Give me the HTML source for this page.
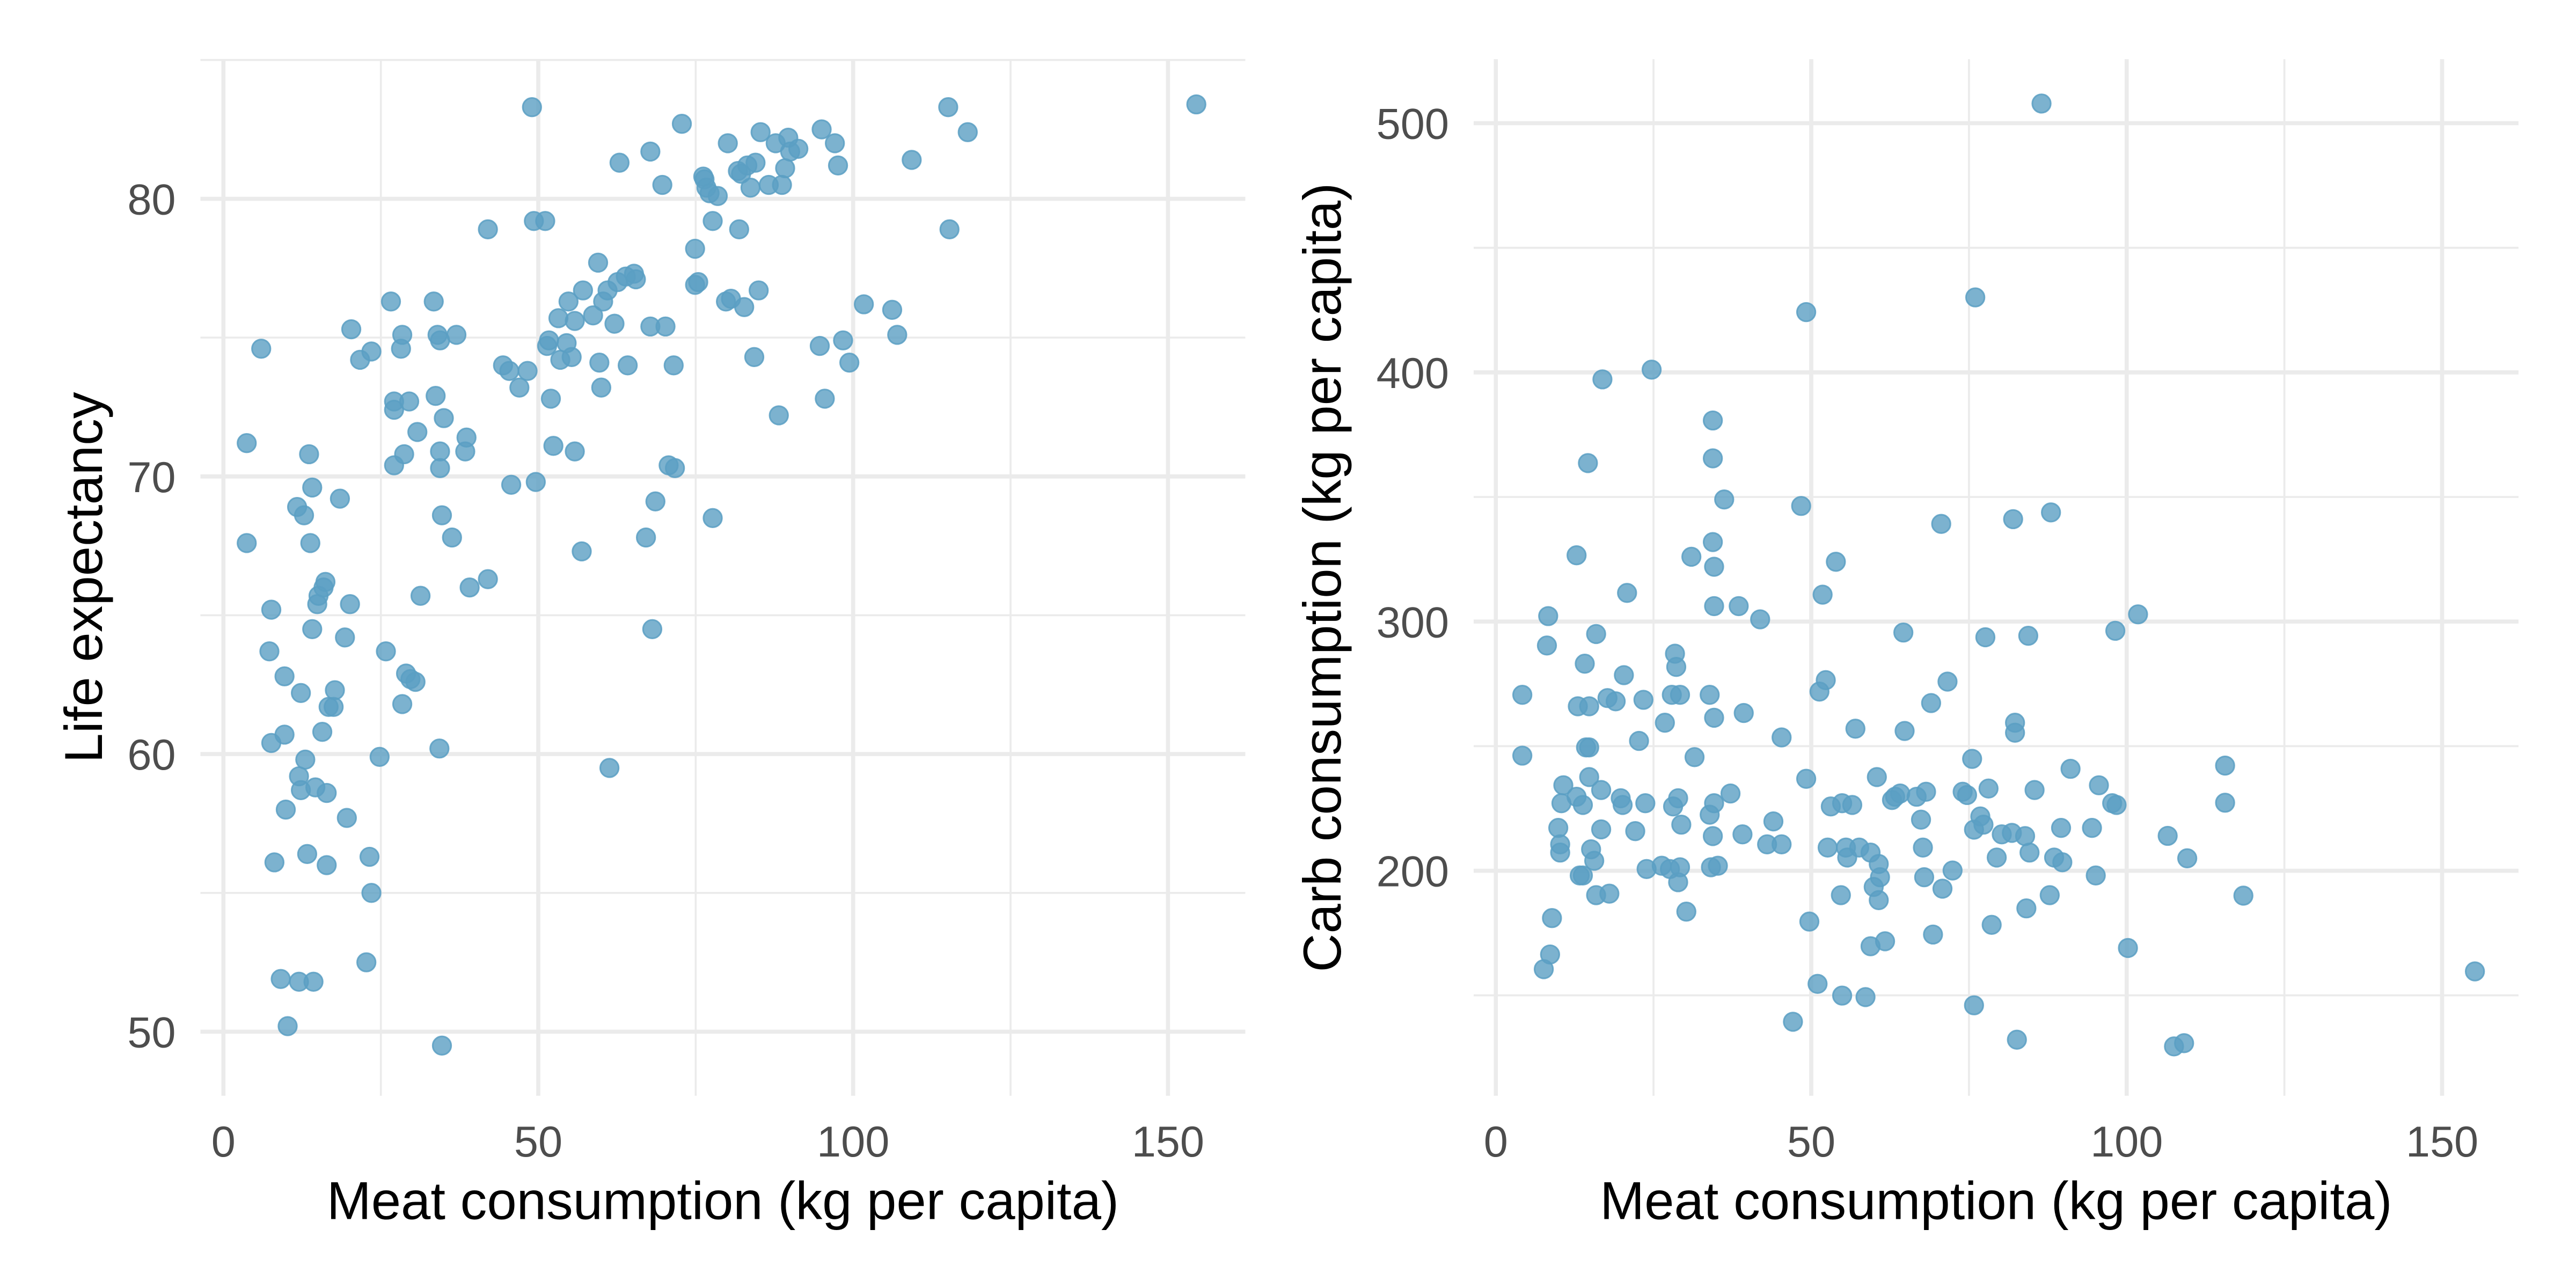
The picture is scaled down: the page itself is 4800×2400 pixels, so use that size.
<!DOCTYPE html>
<html><head><meta charset="utf-8">
<style>
html,body{margin:0;padding:0;background:#fff;}
svg{display:block;}
text{font-family:"Liberation Sans",sans-serif;}
</style></head>
<body>
<svg id="chart" width="4800" height="2400" viewBox="0 0 1568 784" xmlns="http://www.w3.org/2000/svg">
<rect width="1568" height="784" fill="#fff"/>
<g id="left"></g>
<g id="right"></g>
</svg>
<script>
const meatL=[3.7,3.7,6.0,7.3,7.6,7.6,8.1,9.1,9.7,9.7,9.9,10.2,11.7,12.0,12.3,12.3,12.0,12.8,13.0,13.3,13.6,13.8,14.1,14.1,14.3,14.6,14.9,15.1,15.7,15.9,16.2,16.4,16.4,16.7,17.5,17.7,18.5,19.3,19.6,20.1,20.3,21.7,22.7,23.2,23.5,23.5,24.8,25.8,26.6,27.1,27.1,27.1,28.2,28.4,28.4,28.7,29.0,29.5,29.7,30.5,30.8,31.3,33.4,33.7,34.0,34.3,34.4,34.4,34.4,34.7,34.7,35.0,36.3,37.0,38.4,38.6,39.1,42.0,42.0,44.4,45.4,45.7,47.0,48.3,49.0,49.3,49.6,51.1,51.4,51.7,52.0,52.4,53.2,53.5,54.5,54.8,55.3,55.8,55.8,56.9,57.1,58.7,59.5,59.7,60.0,60.3,61.3,61.0,62.1,62.6,62.9,63.9,64.2,65.2,65.5,67.1,67.8,67.8,68.1,68.6,69.7,70.2,70.7,71.5,71.7,72.8,74.9,74.9,75.4,76.2,76.4,76.7,77.2,77.7,77.7,78.5,79.8,80.1,80.6,81.7,81.9,82.2,82.7,83.2,83.7,84.3,84.5,85.0,85.3,86.6,87.7,88.2,88.7,89.2,89.7,90.0,91.3,94.7,95.0,95.5,97.1,97.6,98.4,99.4,101.7,106.2,107.0,109.3,115.1,115.3,118.2,154.5];
const lifeL=[71.2,67.6,74.6,63.7,65.2,60.4,56.1,51.9,62.8,60.7,58.0,50.2,68.9,59.2,58.7,62.2,51.8,68.6,59.8,56.4,70.8,67.6,69.6,64.5,51.8,58.8,65.4,65.7,60.8,66.0,66.2,58.6,56.0,61.7,61.7,62.3,69.2,64.2,57.7,65.4,75.3,74.2,52.5,56.3,55.0,74.5,59.9,63.7,76.3,72.7,72.4,70.4,74.6,75.1,61.8,70.8,62.9,72.7,62.7,62.6,71.6,65.7,76.3,72.9,75.1,60.2,74.9,70.9,70.3,68.6,49.5,72.1,67.8,75.1,70.9,71.4,66.0,66.3,78.9,74.0,73.8,69.7,73.2,73.8,83.3,79.2,69.8,79.2,74.7,74.9,72.8,71.1,75.7,74.2,74.8,76.3,74.3,70.9,75.6,67.3,76.7,75.8,77.7,74.1,73.2,76.3,59.5,76.7,75.5,77.0,81.3,77.2,74.0,77.3,77.1,67.8,81.7,75.4,64.5,69.1,80.5,75.4,70.4,74.0,70.3,82.7,76.9,78.2,77.0,80.8,80.7,80.4,80.2,79.2,68.5,80.1,76.3,82.0,76.4,81.0,78.9,80.9,76.1,81.2,80.4,74.3,81.3,76.7,82.4,80.5,82.0,72.2,80.5,81.1,82.2,81.7,81.8,74.7,82.5,72.8,82.0,81.2,74.9,74.1,76.2,76.0,75.1,81.4,83.3,78.9,82.4,83.4];
const meatR=[4.2,4.2,7.6,8.3,8.1,8.6,8.9,9.9,10.2,10.2,10.4,10.7,12.8,12.8,13.0,13.3,13.8,13.8,14.1,14.3,14.6,14.8,14.8,14.8,15.1,15.6,15.9,15.9,16.7,16.7,16.9,17.7,18.0,19.0,19.8,20.1,20.3,20.8,22.1,22.7,23.4,23.7,23.9,24.7,26.3,26.8,27.6,27.9,28.1,28.4,28.6,28.9,28.9,29.2,29.2,29.4,30.2,31.0,31.5,33.9,33.9,34.1,34.4,34.4,34.4,34.4,34.6,34.6,34.6,34.6,35.2,36.2,37.2,38.5,39.1,39.3,41.9,43.0,44.0,45.3,45.3,47.1,48.4,49.2,49.2,49.7,51.0,51.3,51.8,52.3,52.6,53.1,53.9,54.7,54.9,54.9,55.5,55.7,56.5,57.0,57.6,58.6,59.4,59.4,59.9,60.4,60.7,60.7,60.9,61.7,62.8,63.3,64.1,64.6,64.8,66.7,67.4,67.7,67.9,68.2,69.0,69.3,70.6,70.8,71.6,72.4,74.0,74.7,75.5,75.8,75.8,76.0,76.8,77.3,77.6,78.1,78.6,79.4,80.2,81.8,82.0,82.3,82.3,82.6,83.9,84.1,84.4,84.6,85.4,86.5,87.8,88.0,88.5,89.6,89.8,91.1,94.5,95.1,95.6,97.7,98.4,98.2,100.2,101.8,106.5,107.5,109.1,109.6,115.6,115.6,118.5,155.2];
const carbR=[270.6,246.2,160.5,302.2,290.4,166.4,181.0,217.2,210.6,207.3,227.1,234.3,229.7,326.6,266.0,198.1,198.1,226.4,283.1,249.5,363.6,266.0,249.5,237.6,208.6,204.0,295.0,190.2,232.4,216.6,397.2,269.3,190.8,268.0,229.1,226.4,278.5,311.5,215.9,252.1,268.6,227.1,200.7,401.1,202.0,259.4,200.7,270.6,225.8,287.1,281.8,229.1,195.4,270.6,201.4,218.5,183.6,326.0,245.6,222.5,270.6,201.4,213.9,365.5,331.9,380.7,322.0,306.2,261.4,227.1,202.0,349.0,231.0,306.2,214.6,263.3,300.9,210.6,219.8,210.6,253.5,139.4,346.4,424.2,236.9,179.6,154.6,271.9,310.8,276.5,209.3,225.8,324.0,190.2,149.9,227.1,209.3,205.3,226.4,257.0,209.3,149.3,169.7,207.3,193.5,237.6,188.2,202.7,197.4,171.7,228.4,229.7,231.0,295.6,256.1,229.7,220.5,209.3,197.4,231.7,267.3,174.4,339.2,192.8,275.9,200.1,231.7,230.4,244.9,216.5,146.0,430.1,221.8,218.5,293.7,233.0,178.3,205.3,214.6,215.2,341.1,259.4,255.4,132.2,213.9,184.9,294.3,207.3,232.4,507.9,190.2,343.8,205.3,217.2,203.4,240.9,217.2,198.1,234.3,227.1,226.4,296.3,169.0,302.9,214.0,129.5,130.8,205.0,242.2,227.3,190.0,159.6];
const xTicks=[0,50,100,150];
const xMinor=[25,75,125];
const lifeTicks=[50,60,70,80];
const lifeMinor=[55,65,75,85];
const carbTicks=[200,300,400,500];
const carbMinor=[150,250,350,450];

const NS="http://www.w3.org/2000/svg";
function mk(tag,attrs,parent){const e=document.createElementNS(NS,tag);for(const k in attrs)e.setAttribute(k,attrs[k]);parent.appendChild(e);return e;}

function panel(g,cfg){
  const sx=v=>cfg.x0+(v-cfg.xmin)/(cfg.xmax-cfg.xmin)*(cfg.x1-cfg.x0);
  const sy=v=>cfg.y1-(v-cfg.ymin)/(cfg.ymax-cfg.ymin)*(cfg.y1-cfg.y0);
  xMinor.forEach(v=>{const l=mk('line',{x1:sx(v),x2:sx(v),y1:cfg.y0,y2:cfg.y1,stroke:'#ebebeb','stroke-width':1.2},g);
    
    });
  cfg.yMinor.forEach(v=>{const l=mk('line',{x1:cfg.x0,x2:cfg.x1,y1:sy(v),y2:sy(v),stroke:'#ebebeb','stroke-width':1.2},g);
    
    });
  xTicks.forEach(v=>{const l=mk('line',{x1:sx(v),x2:sx(v),y1:cfg.y0,y2:cfg.y1,stroke:'#ebebeb','stroke-width':2.5},g);
    
    
    const t=mk('text',{x:sx(v),y:704,'text-anchor':'middle','font-size':26.5,fill:'#4d4d4d'},g);t.textContent=v;
    
    });
  cfg.yTicks.forEach(v=>{const l=mk('line',{x1:cfg.x0,x2:cfg.x1,y1:sy(v),y2:sy(v),stroke:'#ebebeb','stroke-width':2.5},g);
    
    
    const t=mk('text',{x:cfg.x0-15,y:sy(v)+9.5,'text-anchor':'end','font-size':26.5,fill:'#4d4d4d'},g);t.textContent=v;
    
    });
  cfg.xs.forEach((v,i)=>{const c=mk('circle',{cx:sx(v),cy:sy(cfg.ys[i]),r:5.6,fill:'rgba(91,159,195,0.8)',stroke:'rgba(91,159,195,0.85)','stroke-width':1},g);
    
    });
  const xt=mk('text',{x:(cfg.x0+cfg.x1)/2,y:742,'text-anchor':'middle','font-size':32.5,fill:'#000'},g);xt.textContent='Meat consumption (kg per capita)';
  
  
  const yt=mk('text',{x:0,y:0,'text-anchor':'middle','font-size':32.5,fill:'#000',transform:`translate(${cfg.ytx},${(cfg.y0+cfg.y1)/2}) rotate(-90)`},g);yt.textContent=cfg.ytitle;
  
  
}
panel(document.getElementById('left'),{x0:122,x1:758,y0:36,y1:667,xmin:(122-136)/3.833,xmax:(758-136)/3.833,ymin:80-(667-121)/16.9,ymax:80+(121-36)/16.9,
  yTicks:lifeTicks,yMinor:lifeMinor,xs:meatL,ys:lifeL,ytitle:'Life expectancy',ytx:62});
panel(document.getElementById('right'),{x0:897,x1:1533,y0:36,y1:667,xmin:(897-910.5)/3.84,xmax:(1533-910.5)/3.84,ymin:200-(667-530)/1.517,ymax:500+(75-36)/1.517,
  yTicks:carbTicks,yMinor:carbMinor,xs:meatR,ys:carbR,ytitle:'Carb consumption (kg per capita)',ytx:816});
</script>
</body></html>
